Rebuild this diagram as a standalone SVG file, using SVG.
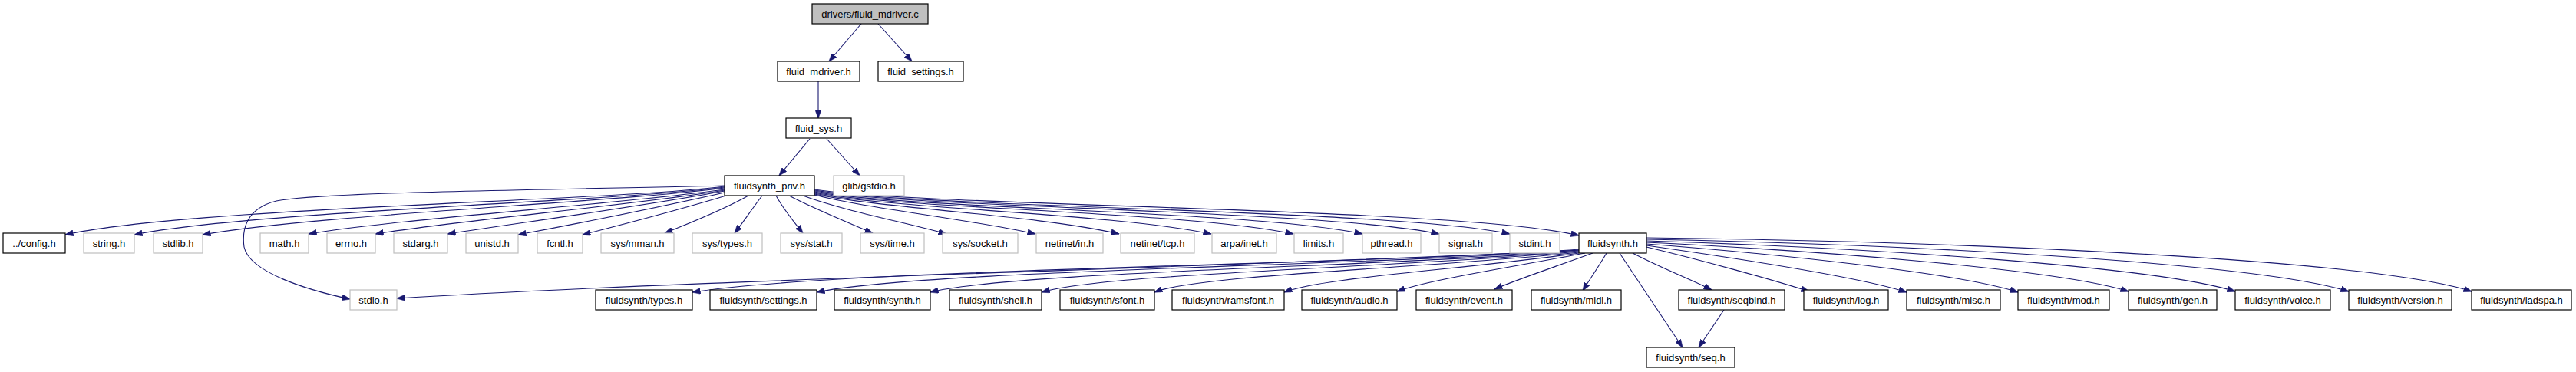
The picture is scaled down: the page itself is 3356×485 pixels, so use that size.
<svg xmlns="http://www.w3.org/2000/svg" width="3356" height="485" viewBox="0 0 3356 485">
<style>
.n rect{fill:#ffffff;stroke:#000000;stroke-width:1.2}
.g rect{fill:#ffffff;stroke:#bfbfbf;stroke-width:1.2}
.root rect{fill:#bfbfbf;stroke:#000000;stroke-width:1.2}
text{font-family:"Liberation Sans",Arial,sans-serif;font-size:13px;fill:#000000;text-anchor:middle}
#edges path{fill:none;stroke:#191970;stroke-width:1.1;marker-end:url(#arr)}
</style>
<defs>
<marker id="arr" markerUnits="userSpaceOnUse" viewBox="0 0 11 8" refX="10.5" refY="4" markerWidth="11" markerHeight="8" orient="auto">
<polygon points="0,0 11,4 0,8" fill="#191970" stroke="#191970" stroke-width="0.5"/>
</marker>
</defs>
<rect width="3356" height="485" fill="#ffffff"/>
<g id="edges">
<path d="M1122,31 L1080,80"/>
<path d="M1144,31 L1188,80"/>
<path d="M1066,106 L1066,154"/>
<path d="M1055,181 L1015,229"/>
<path d="M1077,181 L1120,229"/>
<path d="M944,243 C800,262 250,270 85,306"/>
<path d="M944,244 C800,263 330,275 175,306"/>
<path d="M944,245 C800,264 410,280 264,306"/>
<path d="M944,247 C810,266 520,285 402,305"/>
<path d="M944,248 C820,268 600,287 489,305"/>
<path d="M944,249 C830,270 680,290 583,305"/>
<path d="M944,251 C850,272 750,292 675,306"/>
<path d="M946,255 C880,275 810,293 759,306"/>
<path d="M975,255 C940,275 895,292 866,304"/>
<path d="M993,255 C980,272 968,290 957,304"/>
<path d="M1011,255 C1020,272 1035,290 1046,304"/>
<path d="M1028,255 C1060,272 1105,290 1137,304"/>
<path d="M1046,255 C1100,275 1180,290 1233,305"/>
<path d="M1061,254 C1130,272 1260,285 1349,305"/>
<path d="M1061,253 C1150,272 1350,280 1458,305"/>
<path d="M1061,252 C1160,272 1450,278 1578,305"/>
<path d="M1061,251 C1170,272 1550,276 1685,305"/>
<path d="M1061,250 C1180,272 1640,275 1775,305"/>
<path d="M1061,249 C1190,271 1730,274 1875,305"/>
<path d="M1061,248 C1200,271 1820,273 1967,305"/>
<path d="M1061,247 C1210,270 1900,270 2057,307"/>
<path d="M944,242 C700,248 420,250 360,262 C320,272 315,300 318,322 C325,355 400,378 456,390"/>
<path d="M2057,326 C1700,345 900,365 517,389"/>
<path d="M2057,325 C1800,345 1100,350 902,381"/>
<path d="M2057,326 C1800,346 1200,352 1064,381"/>
<path d="M2057,327 C1820,347 1320,354 1212,381"/>
<path d="M2057,328 C1840,348 1440,356 1357,381"/>
<path d="M2057,329 C1860,350 1560,358 1504,381"/>
<path d="M2057,330 C1900,352 1720,362 1673,381"/>
<path d="M2065,330 C1960,350 1860,365 1820,380"/>
<path d="M2075,330 C2020,350 1975,365 1947,377"/>
<path d="M2093,330 C2083,347 2072,363 2062,379"/>
<path d="M2110,330 C2137,371 2165,412 2192,453"/>
<path d="M2127,330 C2165,350 2205,365 2230,378"/>
<path d="M2145,322 C2220,340 2310,365 2357,380"/>
<path d="M2145,320 C2250,335 2420,360 2484,381"/>
<path d="M2145,318 C2300,330 2550,355 2629,381"/>
<path d="M2145,316 C2350,326 2680,350 2773,380"/>
<path d="M2145,314 C2400,322 2800,345 2912,380"/>
<path d="M2145,312 C2450,318 2930,340 3060,380"/>
<path d="M2145,310 C2500,314 3080,335 3220,380"/>
<path d="M2246,404 L2213,453"/>
</g>
<g id="node-root" class="root"><rect x="1058" y="5" width="151" height="26"/><text x="1133.5" y="23">drivers/fluid_mdriver.c</text></g>
<g id="node-fluid_mdriver" class="n"><rect x="1013" y="80" width="107" height="26"/><text x="1066.5" y="98">fluid_mdriver.h</text></g>
<g id="node-fluid_settings" class="n"><rect x="1144" y="80" width="111" height="26"/><text x="1199.5" y="98">fluid_settings.h</text></g>
<g id="node-fluid_sys" class="n"><rect x="1024" y="154" width="85" height="26"/><text x="1066.5" y="172">fluid_sys.h</text></g>
<g id="node-fluidsynth_priv" class="n"><rect x="944" y="229" width="117" height="26"/><text x="1002.5" y="247">fluidsynth_priv.h</text></g>
<g id="node-glib_gstdio" class="g"><rect x="1086" y="229" width="92" height="26"/><text x="1132" y="247">glib/gstdio.h</text></g>
<g id="node-config" class="n"><rect x="4" y="304" width="81" height="26"/><text x="44.5" y="322">../config.h</text></g>
<g id="node-string" class="g"><rect x="109" y="304" width="66" height="26"/><text x="142" y="322">string.h</text></g>
<g id="node-stdlib" class="g"><rect x="200" y="304" width="64" height="26"/><text x="232" y="322">stdlib.h</text></g>
<g id="node-math" class="g"><rect x="339" y="304" width="63" height="26"/><text x="370.5" y="322">math.h</text></g>
<g id="node-errno" class="g"><rect x="426" y="304" width="63" height="26"/><text x="457.5" y="322">errno.h</text></g>
<g id="node-stdarg" class="g"><rect x="513" y="304" width="70" height="26"/><text x="548" y="322">stdarg.h</text></g>
<g id="node-unistd" class="g"><rect x="607" y="304" width="68" height="26"/><text x="641" y="322">unistd.h</text></g>
<g id="node-fcntl" class="g"><rect x="700" y="304" width="59" height="26"/><text x="729.5" y="322">fcntl.h</text></g>
<g id="node-sys_mman" class="g"><rect x="783" y="304" width="95" height="26"/><text x="830.5" y="322">sys/mman.h</text></g>
<g id="node-sys_types" class="g"><rect x="902" y="304" width="91" height="26"/><text x="947.5" y="322">sys/types.h</text></g>
<g id="node-sys_stat" class="g"><rect x="1017" y="304" width="80" height="26"/><text x="1057" y="322">sys/stat.h</text></g>
<g id="node-sys_time" class="g"><rect x="1121" y="304" width="83" height="26"/><text x="1162.5" y="322">sys/time.h</text></g>
<g id="node-sys_socket" class="g"><rect x="1228" y="304" width="98" height="26"/><text x="1277" y="322">sys/socket.h</text></g>
<g id="node-netinet_in" class="g"><rect x="1350" y="304" width="87" height="26"/><text x="1393.5" y="322">netinet/in.h</text></g>
<g id="node-netinet_tcp" class="g"><rect x="1460" y="304" width="96" height="26"/><text x="1508" y="322">netinet/tcp.h</text></g>
<g id="node-arpa_inet" class="g"><rect x="1579" y="304" width="84" height="26"/><text x="1621" y="322">arpa/inet.h</text></g>
<g id="node-limits" class="g"><rect x="1686" y="304" width="64" height="26"/><text x="1718" y="322">limits.h</text></g>
<g id="node-pthread" class="g"><rect x="1775" y="304" width="76" height="26"/><text x="1813" y="322">pthread.h</text></g>
<g id="node-signal" class="g"><rect x="1875" y="304" width="69" height="26"/><text x="1909.5" y="322">signal.h</text></g>
<g id="node-stdint" class="g"><rect x="1967" y="304" width="65" height="26"/><text x="1999.5" y="322">stdint.h</text></g>
<g id="node-fluidsynth" class="n"><rect x="2057" y="304" width="88" height="26"/><text x="2101" y="322">fluidsynth.h</text></g>
<g id="node-stdio" class="g"><rect x="456" y="378" width="61" height="26"/><text x="486.5" y="396">stdio.h</text></g>
<g id="node-fs_types" class="n"><rect x="776" y="378" width="126" height="26"/><text x="839" y="396">fluidsynth/types.h</text></g>
<g id="node-fs_settings" class="n"><rect x="925" y="378" width="139" height="26"/><text x="994.5" y="396">fluidsynth/settings.h</text></g>
<g id="node-fs_synth" class="n"><rect x="1087" y="378" width="125" height="26"/><text x="1149.5" y="396">fluidsynth/synth.h</text></g>
<g id="node-fs_shell" class="n"><rect x="1237" y="378" width="120" height="26"/><text x="1297" y="396">fluidsynth/shell.h</text></g>
<g id="node-fs_sfont" class="n"><rect x="1381" y="378" width="123" height="26"/><text x="1442.5" y="396">fluidsynth/sfont.h</text></g>
<g id="node-fs_ramsfont" class="n"><rect x="1527" y="378" width="146" height="26"/><text x="1600" y="396">fluidsynth/ramsfont.h</text></g>
<g id="node-fs_audio" class="n"><rect x="1696" y="378" width="124" height="26"/><text x="1758" y="396">fluidsynth/audio.h</text></g>
<g id="node-fs_event" class="n"><rect x="1845" y="378" width="125" height="26"/><text x="1907.5" y="396">fluidsynth/event.h</text></g>
<g id="node-fs_midi" class="n"><rect x="1995" y="378" width="117" height="26"/><text x="2053.5" y="396">fluidsynth/midi.h</text></g>
<g id="node-fs_seqbind" class="n"><rect x="2187" y="378" width="138" height="26"/><text x="2256" y="396">fluidsynth/seqbind.h</text></g>
<g id="node-fs_log" class="n"><rect x="2350" y="378" width="110" height="26"/><text x="2405" y="396">fluidsynth/log.h</text></g>
<g id="node-fs_misc" class="n"><rect x="2484" y="378" width="122" height="26"/><text x="2545" y="396">fluidsynth/misc.h</text></g>
<g id="node-fs_mod" class="n"><rect x="2629" y="378" width="119" height="26"/><text x="2688.5" y="396">fluidsynth/mod.h</text></g>
<g id="node-fs_gen" class="n"><rect x="2773" y="378" width="115" height="26"/><text x="2830.5" y="396">fluidsynth/gen.h</text></g>
<g id="node-fs_voice" class="n"><rect x="2912" y="378" width="124" height="26"/><text x="2974" y="396">fluidsynth/voice.h</text></g>
<g id="node-fs_version" class="n"><rect x="3060" y="378" width="134" height="26"/><text x="3127" y="396">fluidsynth/version.h</text></g>
<g id="node-fs_ladspa" class="n"><rect x="3220" y="378" width="130" height="26"/><text x="3285" y="396">fluidsynth/ladspa.h</text></g>
<g id="node-fs_seq" class="n"><rect x="2145" y="453" width="115" height="26"/><text x="2202.5" y="471">fluidsynth/seq.h</text></g>
</svg>
